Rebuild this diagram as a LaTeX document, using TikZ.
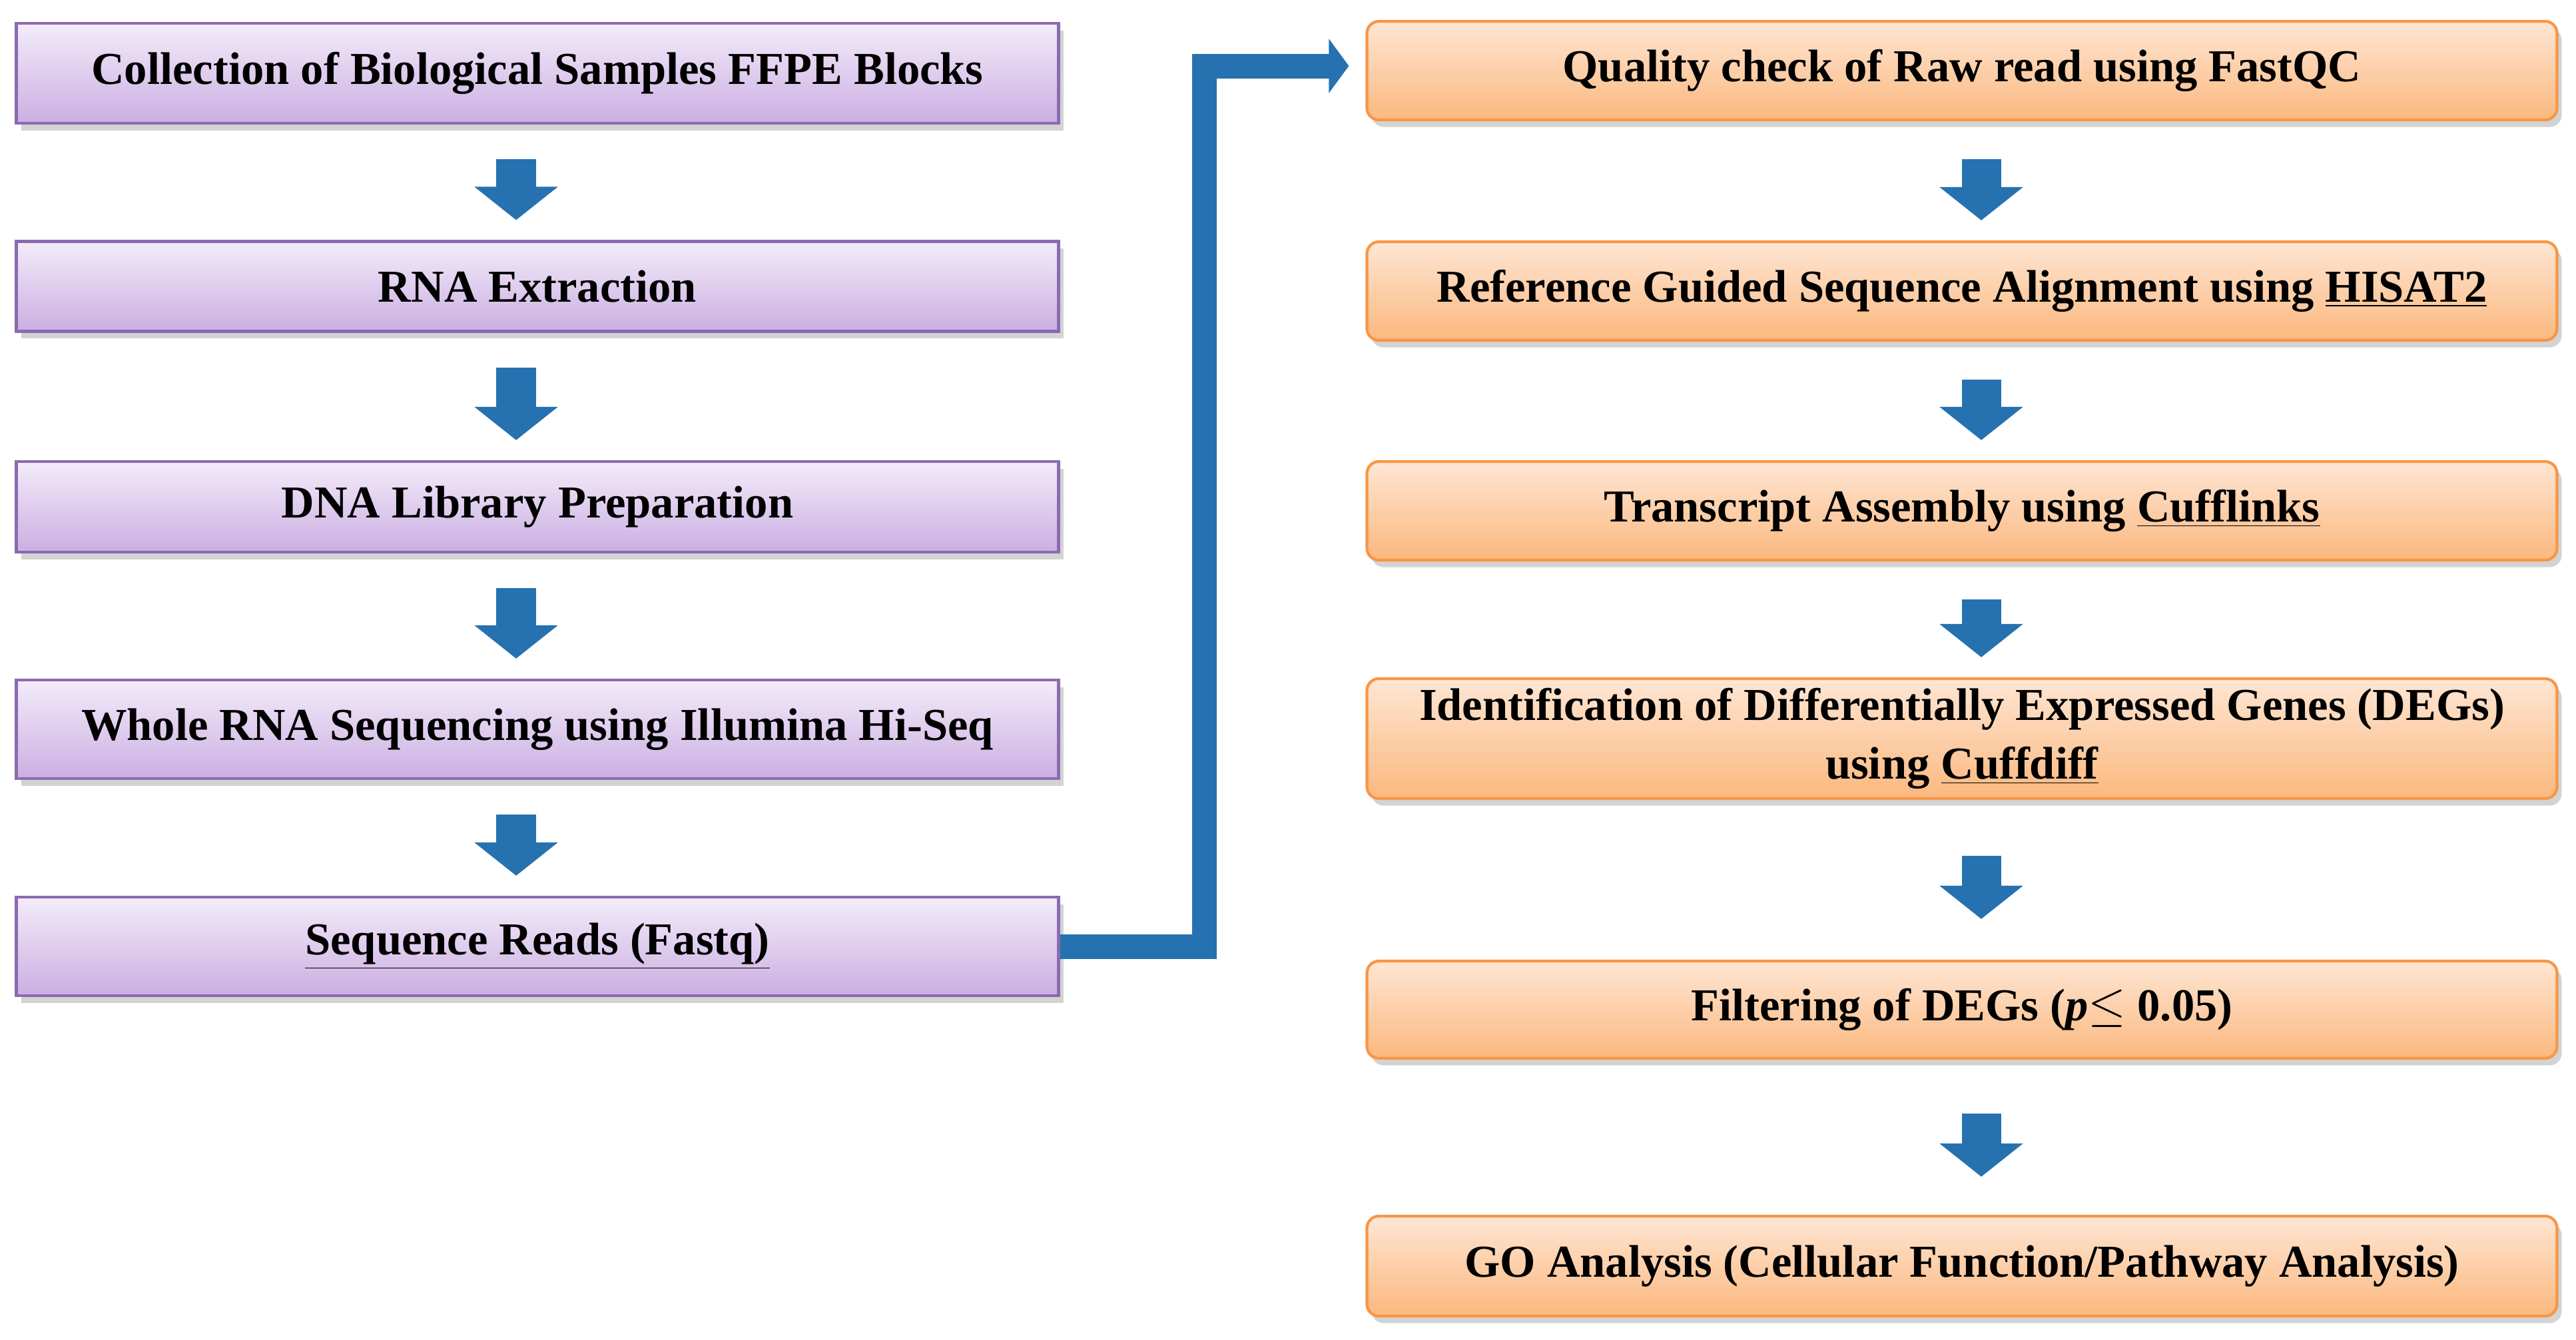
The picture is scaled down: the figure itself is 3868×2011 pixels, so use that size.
\documentclass[tikz,border=0pt]{standalone}
\usepackage{fontspec}
\setmainfont{Liberation Serif}
\usetikzlibrary{arrows.meta,shadows,calc}
\definecolor{arrblue}{HTML}{2672B0}
\definecolor{pborder}{HTML}{8A6BB0}
\definecolor{ptop}{HTML}{F3ECF9}
\definecolor{pbot}{HTML}{CBAEE2}
\definecolor{oborder}{HTML}{F79646}
\definecolor{otop}{HTML}{FEE6D4}
\definecolor{obot}{HTML}{FBB87E}
\begin{document}
\begin{tikzpicture}[x=0.01cm,y=-0.01cm,
  txt/.style={font=\fontsize{19.5}{25}\selectfont\bfseries, align=center},
  pbox/.style={txt, draw=pborder, line width=1.2pt, top color=ptop, bottom color=pbot,
     minimum width=15.64cm, drop shadow={shadow xshift=2pt,shadow yshift=-3pt,opacity=0.35}},
  obox/.style={txt, draw=oborder, line width=1.2pt, rounded corners=0.18cm, top color=otop, bottom color=obot,
     minimum width=17.86cm, drop shadow={shadow xshift=2pt,shadow yshift=-3pt,opacity=0.35}},
  barr/.style={arrblue, line width=0.59cm, -{Triangle[width=1.23cm,length=0.5cm]}}
]
\useasboundingbox (0,0) rectangle (3868,2011);
\node[pbox, minimum height=1.5cm] (l1) at (807,110) {Collection of Biological Samples FFPE Blocks};
\node[pbox, minimum height=1.35cm] (l2) at (807,430) {RNA Extraction};
\node[pbox, minimum height=1.36cm] (l3) at (807,761) {DNA Library Preparation};
\node[pbox, minimum height=1.48cm] (l4) at (807,1095) {Whole RNA Sequencing using Illumina Hi-Seq};
\node[pbox, minimum height=1.48cm] (l5) at (807,1421) {\underline{Sequence Reads (Fastq)}};

\node[obox, minimum height=1.48cm] (r1) at (2946,106) {Quality check of Raw read using FastQC};
\node[obox, minimum height=1.48cm] (r2) at (2946,437) {Reference Guided Sequence Alignment using \underline{HISAT2}};
\node[obox, minimum height=1.48cm] (r3) at (2946,767) {Transcript Assembly using \underline{Cufflinks}};
\node[obox, minimum height=1.8cm] (r4) at (2946,1109) {Identification of Differentially Expressed Genes (DEGs)\\using \underline{Cuffdiff}};
\node[obox, minimum height=1.46cm] (r5) at (2946,1516) {Filtering of DEGs (\textit{p}$\leq$ 0.05)};
\node[obox, minimum height=1.5cm] (r6) at (2946,1901) {GO Analysis (Cellular Function/Pathway Analysis)};

\foreach \a/\b in {l1/l2,l2/l3,l3/l4,l4/l5}
  \draw[barr, shorten <=0.52cm, shorten >=0.30cm] ($(\a.south)+(-32,0)$) -- ($(\b.north)+(-32,0)$);
\foreach \a/\b in {r1/r2,r2/r3,r3/r4}
  \draw[barr, shorten <=0.57cm, shorten >=0.30cm] ($(\a.south)+(29,0)$) -- ($(\b.north)+(29,0)$);
\draw[barr, shorten <=0.84cm, shorten >=0.61cm] ($(r4.south)+(29,0)$) -- ($(r5.north)+(29,0)$);
\draw[barr, shorten <=0.81cm, shorten >=0.57cm] ($(r5.south)+(29,0)$) -- ($(r6.north)+(29,0)$);

\coordinate (tip) at ($(r1.west)+(-25,-7)$);
\draw[arrblue, line width=0.37cm, -{Triangle[width=0.8cm,length=0.3cm]}]
  (l5.east) -- (1808,1421) |- (tip);
\end{tikzpicture}
\end{document}
